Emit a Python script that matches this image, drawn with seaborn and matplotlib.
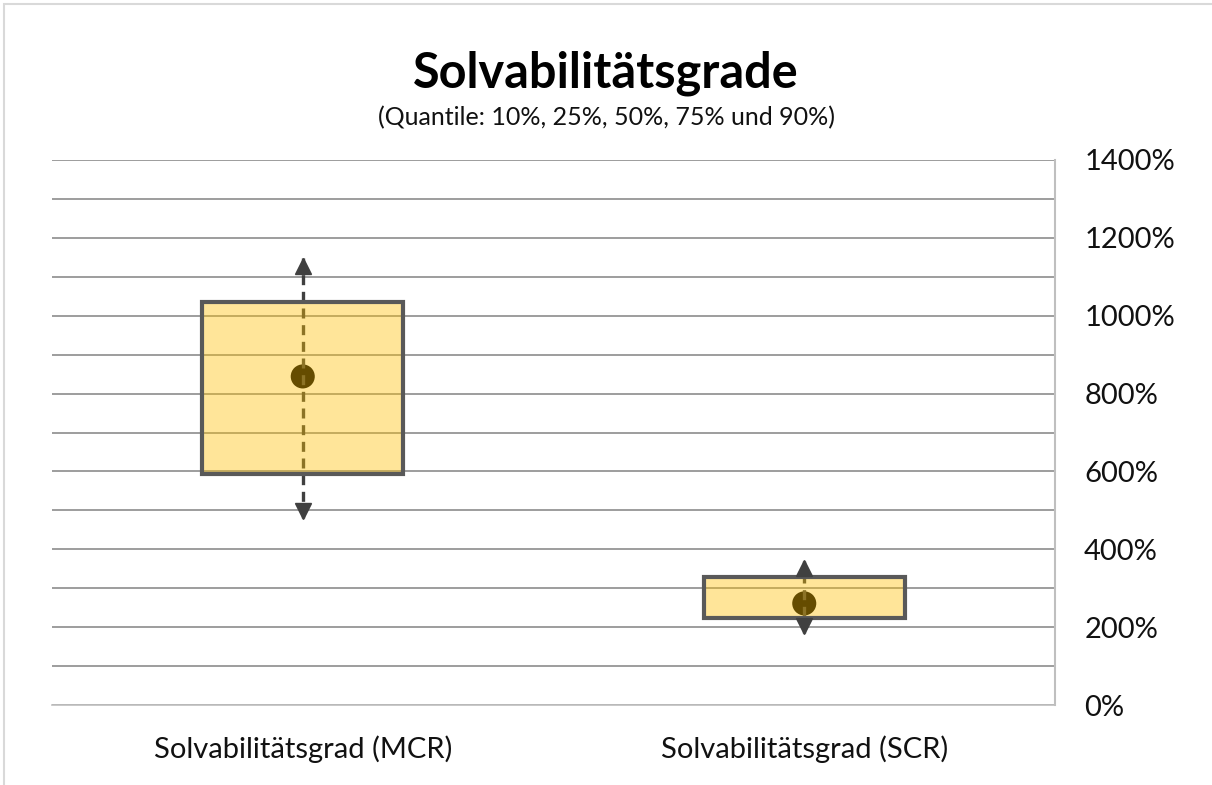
import seaborn as sns
import matplotlib.pyplot as plt
import matplotlib.transforms as mtransforms
import matplotlib.ticker as ticker
from matplotlib.patches import Rectangle
import pandas as pd

# quantiles (in %)
categories = ["Solvabilitätsgrad (MCR)", "Solvabilitätsgrad (SCR)"]
q10 = [480, 184]
q25 = [593, 224]
q50 = [844, 261]
q75 = [1034, 330]
q90 = [1148, 371]

title = "Solvabilitätsgrade"
subtitle = "(Quantile: 10%, 25%, 50%, 75% und 90%)"

df = pd.DataFrame({"Kategorie": categories, "q10": q10, "q25": q25,
                   "q50": q50, "q75": q75, "q90": q90})

sns.set_theme(style="white")
plt.rcParams["font.family"] = ["Lato", "DejaVu Sans"]

fig = plt.figure(figsize=(12.12, 7.85), dpi=100)
ax = fig.add_axes([52 / 1212, 1 - 705 / 785, (1055 - 52) / 1212, (705 - 160) / 785])

# medians (seen through the translucent box)
sns.scatterplot(data=df, x="Kategorie", y="q50", color="#000000", s=300,
                edgecolor="none", ax=ax, zorder=1)

# whiskers (dashed, behind the translucent box)
ax.vlines(df["Kategorie"], df["q10"], df["q90"], colors="#404040",
          linestyles=(0, (3, 2)), linewidth=2.4, zorder=2)

# boxes q25..q75
ax.bar(df["Kategorie"], df["q75"] - df["q25"], bottom=df["q25"], width=0.4,
       facecolor=(1.0, 0.753, 0.0, 0.4), edgecolor="#595959", linewidth=3,
       zorder=3)

# arrow heads at the 10% / 90% quantiles
up = mtransforms.offset_copy(ax.transData, fig=fig, y=-5.5, units="points")
down = mtransforms.offset_copy(ax.transData, fig=fig, y=5.5, units="points")
ax.plot(df["Kategorie"], df["q90"], "^", color="#404040", markersize=11,
        linestyle="none", transform=up, zorder=5)
ax.plot(df["Kategorie"], df["q10"], "v", color="#404040", markersize=11,
        linestyle="none", transform=down, zorder=5)

ax.set_xlim(-0.5, 1.5)
ax.set_ylim(0, 1400)
ax.yaxis.set_major_locator(ticker.MultipleLocator(200))
ax.yaxis.set_minor_locator(ticker.MultipleLocator(100))
ax.yaxis.set_major_formatter(ticker.FuncFormatter(lambda v, p: f"{v:.0f}%"))
ax.yaxis.tick_right()
ax.grid(True, axis="y", which="both", color="#8C8C8C", linewidth=1.2, zorder=0)
ax.set_axisbelow(True)
ax.tick_params(axis="y", which="both", length=0, pad=21, labelsize=21,
               labelcolor="#111111")
ax.xaxis.set_minor_locator(ticker.FixedLocator([-0.5, 0.5, 1.5]))
ax.tick_params(axis="x", which="major", length=0, pad=22, labelsize=21,
               labelcolor="#111111")
ax.tick_params(axis="x", which="minor", length=9, width=1, color="#BFBFBF",
               direction="out")
ax.set_xlabel("")
ax.set_ylabel("")

for s in ["top", "left"]:
    ax.spines[s].set_visible(False)
ax.spines["right"].set_color("#BFBFBF")
ax.spines["right"].set_linewidth(1.5)
ax.spines["bottom"].set_color("#BFBFBF")
ax.spines["bottom"].set_linewidth(1.2)

fig.text(0.5, 1 - 73 / 785, title, ha="center", va="center",
         fontsize=35, fontweight="bold", color="#000000")
fig.text(0.5, 1 - 118 / 785, subtitle, ha="center", va="center",
         fontsize=18, color="#111111")

# chart frame
fig.patches.append(Rectangle((4 / 1212, -0.1), 1.2, 1.1 - 4 / 785,
                             transform=fig.transFigure, fill=False,
                             edgecolor="#D9D9D9", linewidth=1.5))

fig.savefig("out.png", dpi=100)
